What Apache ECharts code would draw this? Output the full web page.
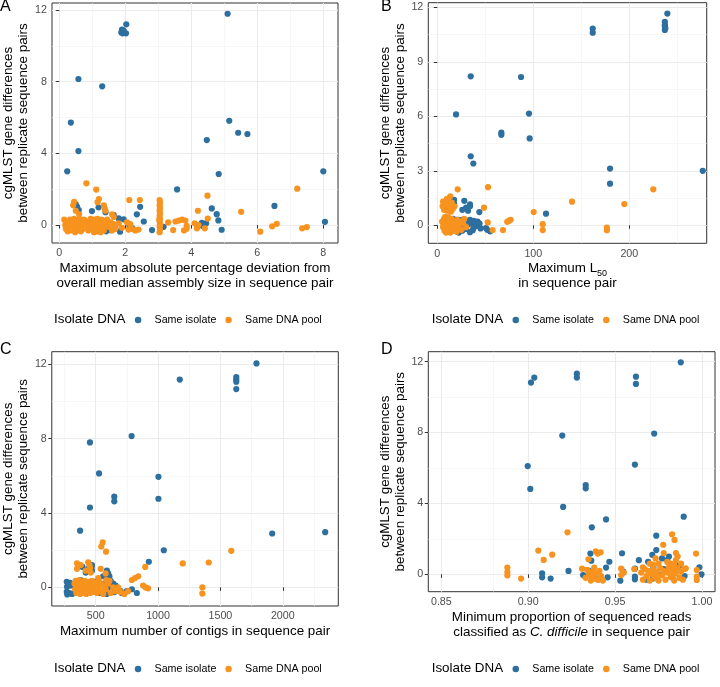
<!DOCTYPE html>
<html><head><meta charset="utf-8">
<script src="https://cdn.jsdelivr.net/npm/echarts@6/dist/echarts.min.js"></script>
<style>html,body{margin:0;padding:0;background:#fff}#c{width:720px;height:687px}</style>
</head><body><div id="c"></div>
<script>
// ---------------- DATA ----------------
const seriesNames = ['Same isolate', 'Same DNA pool'];

// Panel A: max abs % deviation from median assembly size vs cgMLST differences
const aSameIsolate = [[0.24,3.0],[0.35,5.72],[0.58,8.15],[0.58,4.13],[1.30,7.74],
 [1.88,10.75],[1.90,10.9],[1.92,10.7],[1.95,10.85],[2.02,10.7],[2.03,11.2],
 [5.10,11.79],[5.15,5.82],[5.42,5.15],[5.70,5.08],[4.47,4.74],[4.83,2.85],[3.57,1.99],
 [8.00,3.0],[8.05,0.18],[6.52,1.07],[4.62,0.93],[4.77,0.61],[4.82,0.26],[4.92,-0.26],
 [2.81,-0.28],[3.16,-0.1],[2.56,0.2],[2.35,0.6],[2.45,1.02],
 [4.27,0.0],[4.32,0.12],[4.38,0.05],[4.45,0.1],[4.35,-0.05],
 [0.5,1.15],[0.54,1.02],[0.59,0.84],[0.45,1.2],[0.99,0.78],[1.19,0.99],[1.4,0.72],
 [1.65,0.56],[1.8,0.37],[1.95,0.32],[0.49,0.09],[0.54,-0.28],[0.39,0.0],[0.8,0.0],[0.9,-0.18],
 [1.45,-0.18],[1.55,-0.28],[1.7,-0.18],[1.84,-0.37],[2.22,-0.18],[2.12,0.0],[1.15,0.05],
 [1.35,-0.1],[1.42,-0.35],[0.3,0.05],[0.65,-0.3],[1.25,-0.25],[1.05,-0.05]];
const aSameDnaPool = [[0.82,2.33],[1.12,1.98],[0.45,1.3],[0.42,1.1],[0.5,0.8],[0.6,0.6],
 [1.16,1.28],[1.2,1.45],[1.35,1.1],[1.38,0.9],[1.4,0.8],[1.6,0.6],[1.65,0.45],[2.12,1.4],[2.44,1.4],
 [0.15,0.3],[0.18,0.0],[0.2,-0.2],[0.22,0.15],[0.25,-0.35],[0.28,0.1],[0.3,-0.1],[0.33,0.3],
 [0.35,-0.3],[0.38,0.0],[0.4,0.2],[0.42,-0.15],[0.45,0.35],[0.48,-0.4],[0.5,0.05],[0.52,-0.25],
 [0.55,0.25],[0.6,-0.05],[0.62,0.35],[0.65,-0.35],[0.7,0.1],[0.72,-0.2],[0.75,0.3],[0.8,-0.1],
 [0.85,0.2],[0.88,-0.3],[0.9,0.05],[0.95,0.35],[1.0,-0.15],[1.02,0.1],[1.05,-0.4],[1.05,0.3],
 [1.08,0.0],[1.1,-0.25],[1.1,0.2],[1.12,-0.1],[1.15,0.35],[1.15,-0.35],[1.18,0.05],[1.2,-0.2],
 [1.2,0.25],[1.22,-0.05],[1.25,0.15],[1.25,-0.4],[1.28,0.3],[1.3,-0.15],[1.32,0.1],[1.35,-0.3],
 [1.38,0.2],[1.4,0.0],[1.45,0.3],[1.5,-0.1],[1.55,0.15],[1.6,-0.3],[1.65,0.05],[1.7,-0.2],
 [1.8,0.1],[1.9,-0.15],[2.05,0.15],[2.1,-0.25],[2.2,-0.2],[2.3,-0.3],[2.4,-0.25],[2.15,0.05],
 [3.04,1.4],[3.05,1.25],[3.04,1.1],[3.05,0.95],[3.04,0.8],[3.05,0.65],[3.04,0.5],[3.05,0.35],
 [3.04,0.2],[3.05,0.05],[3.04,-0.1],[3.05,-0.25],[3.04,-0.4],[3.06,0.0],[3.03,0.3],
 [3.3,0.15],[3.52,0.2],[3.62,0.25],[3.72,0.3],[3.82,0.25],[3.45,-0.28],[3.78,-0.3],[3.86,-0.2],
 [3.86,-0.05],[4.2,0.8],[4.17,-0.18],[4.22,0.0],[4.1,0.1],[4.41,-0.18],[4.5,0.36],[4.49,1.64],
 [5.51,0.74],[6.09,-0.37],[6.45,-0.07],[6.59,0.07],[7.21,2.03],[7.36,-0.18],[7.5,-0.11]];

// Panel B: maximum L50 vs cgMLST differences
const bSameIsolate = [[239.6,11.65],[237,11.2],[237,11.05],[237,10.95],[237.5,10.85],[237,10.75],
 [161.9,10.83],[161.9,10.6],[34.8,8.2],[87.2,8.16],[19.5,6.1],[95.5,6.15],[66.7,5.1],[66.7,4.98],
 [96.2,4.78],[34.8,3.8],[37.5,3.4],[179.9,3.12],[179.9,2.29],[276.5,3.0],[113.2,0.64],[43.8,0.73],
 [17.5,1.4],[17.5,1.2],[28.1,1.35],[34,1.15],[34,1.05],[26,0.85],[30,0.97],[32,0.8],[22.3,0.3],
 [50.7,-0.15],[54.9,-0.33],[22.3,-0.4],[36.9,-0.27],
 [16.4,0.35],[18,0.2],[20,0.3],[22,0.0],[24,0.15],[26,0.3],[28,-0.1],[30,0.2],[32,0.05],[34,0.3],
 [36,0.1],[38,0.25],[40,-0.05],[42,0.2],[44,0.1],[20.5,-0.26],[34,-0.38],[45,-0.17],[52,-0.25],
 [30,-0.2],[26,-0.3],[38,-0.1]];
const bSameDnaPool = [[21.2,1.98],[52.8,2.1],[225,1.98],[140.3,1.3],[194.8,1.17],[100.4,0.73],
 [48.6,0.97],[13.5,1.6],[109.8,0.06],[109.8,-0.26],[176.6,-0.13],[176.6,-0.27],[52.5,0.16],
 [57.6,-0.26],[68.4,-0.26],[72.8,0.19],[74.5,0.24],[76.3,0.3],
 [6,1.3],[8,1.0],[9,1.2],[10,0.8],[11,1.35],[12,0.95],[13,1.1],[14,0.75],[7,0.85],[15,1.25],
 [18,1.05],[5.5,1.05],[10,1.45],[16,0.9],
 [5,0.2],[6,-0.1],[7,0.35],[7.5,-0.3],[8,0.1],[8.5,-0.2],[9,0.3],[9.5,0.0],[10,-0.35],[10.5,0.2],
 [11,-0.1],[11.5,0.4],[12,-0.25],[12.5,0.05],[13,0.3],[13.5,-0.4],[14,0.15],[14.5,-0.15],[15,0.35],
 [15.5,-0.3],[16,0.0],[17,0.25],[18,-0.2],[19,0.1],[20,-0.35],[21,0.3],[22,-0.05],[24,0.2],
 [25,-0.25],[27,0.1],[28,0.35],[30,-0.1],[8,0.45],[11,0.45],[6.5,0.0],[9,-0.4]];

// Panel C: maximum number of contigs vs cgMLST differences
const cSameIsolate = [[1789,12.05],[1174,11.18],[1627,11.32],[1627,11.18],[1627,11.06],[1627,10.67],
 [788,8.14],[454,7.8],[527,6.13],[649,4.88],[649,4.63],[1003,5.95],[1003,4.77],[454,4.3],[375,3.05],
 [1915,2.9],[2340,2.97],[1046,2.0],[926,1.38],
 [268,0.3],[270,0.03],[268,-0.24],[272,-0.38],[285,0.2],[290,-0.3],[300,0.1],[310,-0.35],[295,0.25],
 [394,1.1],[468,1.1],[470,0.9],[590,0.9],[600,0.75],[610,0.6],[580,0.7],[560,0.6],[572,0.2],
 [641,0.2],[708,-0.3],[750,-0.2],[790,-0.1],[588,-0.35],[530,-0.3],[650,-0.25],[440,1.0],[470,1.2],
 [490,0.3],[520,0.1],[480,-0.1],[410,0.0],[380,0.4],[360,-0.2],[420,0.8],[600,0.0],[660,0.1],
 [700,-0.2],[830,-0.3],[620,0.35]];
const cSameDnaPool = [[556,2.42],[545,2.2],[583,1.92],[1587,1.97],[1198,1.29],[1406,1.34],[1355,0.0],
 [1355,-0.33],[897,1.1],[790,0.4],[815,0.5],[841,0.6],[880,0.1],[900,0.0],[920,-0.05],[760,-0.2],
 [730,-0.35],[700,-0.25],[680,0.0],
 [350,1.3],[380,1.2],[440,1.35],[450,1.2],[455,1.05],[350,1.0],[420,0.9],[460,0.8],[540,1.0],
 [580,0.75],[585,0.4],[610,0.35],[520,0.5],
 [330,0.2],[335,-0.1],[340,0.35],[345,-0.3],[350,0.05],[355,0.25],[360,-0.2],[365,0.1],[370,0.4],
 [375,-0.35],[380,0.0],[385,0.3],[390,-0.15],[395,0.2],[400,-0.3],[405,0.05],[410,0.35],[415,-0.1],
 [420,0.15],[425,-0.35],[430,0.25],[435,0.0],[440,-0.2],[445,0.3],[450,0.1],[455,-0.3],[460,0.2],
 [465,-0.05],[470,0.35],[475,-0.25],[480,0.1],[490,-0.15],[500,0.25],[510,-0.3],[520,0.0],[530,0.3],
 [540,-0.2],[550,0.15],[560,-0.35],[570,0.05],[580,-0.1],[600,0.2],[620,-0.3],[640,0.0],[660,-0.2]];

// Panel D: minimum proportion of reads classified as C. difficile vs cgMLST differences
const dSameIsolate = [[0.9016,10.82],[0.9035,11.1],[0.928,11.32],[0.928,11.1],[0.962,11.15],[0.962,10.74],
 [0.9878,11.96],[0.9196,7.83],[0.9725,7.94],[0.8997,6.11],[0.9012,4.82],[0.9614,6.19],[0.9331,5.04],
 [0.9331,4.85],[0.9201,3.8],[0.9366,2.65],[0.9448,3.1],[0.9895,3.25],[0.9737,2.18],[0.9737,1.37],
 [0.954,1.19],[0.9358,1.17],[0.9363,0.77],[0.9467,0.71],[0.9448,0.38],[0.9232,0.19],[0.908,0.06],
 [0.908,-0.17],[0.9129,-0.24],[0.9637,0.8],[0.9614,0.32],[0.9614,-0.13],[0.9614,-0.28],[0.953,-0.36],
 [0.9457,-0.17],[0.9408,-0.28],[0.9316,-0.04],[0.9547,0.15],[0.969,0.71],[0.9714,1.1],[0.9985,0.4],
 [0.9997,0.0],[0.9848,0.25],[0.98,0.8],[0.9718,-0.23],[0.935,0.2],[0.938,-0.1],[0.975,0.0],[0.978,0.3],
 [0.983,-0.2],[0.987,0.5],[0.99,-0.1],[0.968,-0.3],[0.972,0.4],[0.977,0.9],[0.981,1.0]];
const dSameDnaPool = [[0.9226,2.37],[0.9058,1.34],[0.9089,0.81],[0.9138,1.11],[0.888,0.38],[0.888,0.13],
 [0.888,-0.06],[0.8959,-0.24],[0.931,0.32],[0.9389,1.3],[0.94,1.17],[0.9417,1.24],[0.9347,0.85],
 [0.938,0.38],[0.9375,0.06],[0.9535,0.32],[0.9535,-0.04],[0.9828,2.26],[0.9842,1.94],[0.9777,1.67],
 [0.9733,0.9],[0.9966,1.17],[0.997,0.24],[0.997,-0.13],[0.997,-0.32],[0.9907,0.34],
 [0.933,-0.2],[0.935,0.0],[0.936,-0.35],[0.937,0.15],[0.938,-0.25],[0.939,0.05],[0.94,-0.3],
 [0.941,0.2],[0.942,-0.1],[0.943,-0.35],[0.934,0.25],[0.936,-0.05],
 [0.965,0.1],[0.966,-0.3],[0.967,0.3],[0.968,-0.1],[0.969,0.2],[0.97,-0.35],[0.971,0.0],[0.972,0.3],
 [0.973,-0.2],[0.974,0.15],[0.975,-0.35],[0.976,0.35],[0.977,-0.05],[0.978,0.2],[0.979,-0.3],[0.98,0.1],
 [0.981,0.4],[0.982,-0.15],[0.983,0.25],[0.984,-0.35],[0.985,0.05],[0.986,0.35],[0.987,-0.2],
 [0.988,0.15],[0.989,-0.3],[0.99,0.3],[0.975,0.6],[0.98,0.7],[0.985,0.8],[0.986,1.0],[0.985,1.2],
 [0.984,0.5],[0.978,1.2],[0.972,0.55],[0.982,0.6],[0.988,0.6],[0.966,0.4],[0.97,0.6],[0.974,-0.1],
 [0.983,-0.05],[0.961,0.3],[0.955,0.1]];

// Tick values
const aXTicks = [0, 2, 4, 6, 8],            aXMinor = [1, 3, 5, 7];
const aYTicks = [0, 4, 8, 12],              aYMinor = [2, 6, 10];
const bXTicks = [0, 100, 200],              bXMinor = [50, 150, 250];
const bYTicks = [0, 3, 6, 9, 12],           bYMinor = [1.5, 4.5, 7.5, 10.5];
const cXTicks = [500, 1000, 1500, 2000],    cXMinor = [250, 750, 1250, 1750, 2250];
const cYTicks = [0, 4, 8, 12],              cYMinor = [2, 6, 10];
const dXTicks = [0.85, 0.90, 0.95, 1.00],   dXMinor = [0.875, 0.925, 0.975];
const dYTicks = [0, 4, 8, 12],              dYMinor = [2, 6, 10];

const yTitle = 'cgMLST gene differences\nbetween replicate sequence pairs';
const xTitles = [
  'Maximum absolute percentage deviation from\noverall median assembly size in sequence pair',
  'Maximum L{sub|50}\nin sequence pair',
  'Maximum number of contigs in sequence pair',
  'Minimum proportion of sequenced reads\nclassified as {it|C. difficile} in sequence pair'
];
const panelLetters = ['A', 'B', 'C', 'D'];
const legendTitle = 'Isolate DNA';

// ---------------- LAYOUT ----------------
const FONT = "'Liberation Sans', Arial, Helvetica, sans-serif";
const COLORS = ['#2D6F9F', '#F7931E'];
const panels = [
  { grid: {left: 52, top: 3, width: 286, height: 240}, xr: [-0.221, 8.445], yr: [-1.0, 12.39],
    data: [aSameIsolate, aSameDnaPool], xt: aXTicks, xm: aXMinor, yt: aYTicks, ym: aYMinor,
    fmt: v => String(v), xGap: 18, yGap: 19, letter: [0, -1], legend: {title: 54, icon: 134.8, y: 321} },
  { grid: {left: 428.3, top: 2.7, width: 278.4, height: 240.6}, xr: [-9.4, 280.6], yr: [-0.99, 12.25],
    data: [bSameIsolate, bSameDnaPool], xt: bXTicks, xm: bXMinor, yt: bYTicks, ym: bYMinor,
    fmt: v => String(v), xGap: 18, yGap: 17, letter: [381, -1], legend: {title: 431.7, icon: 512.5, y: 321} },
  { grid: {left: 51, top: 351.7, width: 287.3, height: 254.3}, xr: [148, 2445], yr: [-1.0, 12.68],
    data: [cSameIsolate, cSameDnaPool], xt: cXTicks, xm: cXMinor, yt: cYTicks, ym: cYMinor,
    fmt: v => String(v), xGap: 18, yGap: 18, letter: [0, 342], legend: {title: 54, icon: 134.8, y: 670} },
  { grid: {left: 428.3, top: 351.7, width: 286.7, height: 240}, xr: [0.8425, 1.0075], yr: [-0.98, 12.56],
    data: [dSameIsolate, dSameDnaPool], xt: dXTicks, xm: dXMinor, yt: dYTicks, ym: dYMinor,
    fmt: v => v.toFixed(2), xGap: 18, yGap: 17, letter: [381, 342], legend: {title: 431.7, icon: 512.5, y: 670} }
];

const grids = [], xAxes = [], yAxes = [], series = [], legends = [], graphics = [];
panels.forEach((p, i) => {
  grids.push(Object.assign({show: true, borderColor: '#333333', borderWidth: 1, backgroundColor: '#fff', containLabel: false}, p.grid));
  const tickStyle = {show: true, length: 3.5, lineStyle: {color: '#333333', width: 1}};
  const labelStyle = {color: '#4D4D4D', fontSize: 10.7, fontFamily: FONT};
  xAxes.push({
    gridIndex: i, type: 'value', min: p.xr[0], max: p.xr[1],
    axisLine: {show: false}, splitLine: {show: false},
    axisTick: Object.assign({customValues: p.xt}, tickStyle),
    axisLabel: Object.assign({customValues: p.xt, margin: 5, formatter: p.fmt}, labelStyle),
    name: xTitles[i], nameLocation: 'middle', nameGap: p.xGap,
    nameTextStyle: {color: '#000', fontSize: 13.4, fontFamily: FONT, lineHeight: 15,
      rich: {sub: {fontSize: 9, fontFamily: FONT, color: '#000', padding: [9, 0, 0, 0]},
             it: {fontSize: 13.4, fontFamily: FONT, color: '#000', fontStyle: 'italic'}}}
  });
  yAxes.push({
    gridIndex: i, type: 'value', min: p.yr[0], max: p.yr[1],
    axisLine: {show: false}, splitLine: {show: false},
    axisTick: Object.assign({customValues: p.yt}, tickStyle),
    axisLabel: Object.assign({customValues: p.yt, margin: 5}, labelStyle),
    name: yTitle, nameLocation: 'middle', nameGap: p.yGap, nameRotate: 90,
    nameTextStyle: {color: '#000', fontSize: 13.4, fontFamily: FONT, lineHeight: 15}
  });
  const mkLines = (xs, ys, color, width) => ({
    silent: true, symbol: ['none', 'none'], label: {show: false}, animation: false, z: 0,
    emphasis: {disabled: true}, lineStyle: {color: color, width: width, type: 'solid'},
    data: xs.map(v => ({xAxis: v})).concat(ys.map(v => ({yAxis: v})))
  });
  series.push({type: 'scatter', name: '_minor' + i, xAxisIndex: i, yAxisIndex: i, data: [], z: 0, silent: true,
    markLine: mkLines(p.xm, p.ym, '#F2F2F2', 0.6)});
  series.push({type: 'scatter', name: '_major' + i, xAxisIndex: i, yAxisIndex: i, data: [], z: 0, silent: true,
    markLine: mkLines(p.xt, p.yt, '#EBEBEB', 1.1)});
  p.data.forEach((d, k) => {
    series.push({type: 'scatter', name: seriesNames[k], xAxisIndex: i, yAxisIndex: i, data: d,
      symbolSize: 6.2, itemStyle: {color: COLORS[k], opacity: 1}, z: 3 + k, silent: true});
  });
  legends.push({left: p.legend.icon, top: p.legend.y - 6.5, padding: 0, itemWidth: 17, itemHeight: 6.5,
    itemGap: 9, icon: 'circle', data: seriesNames, selectedMode: false,
    textStyle: {color: '#000', fontSize: 10.7, fontFamily: FONT, padding: [0, 0, 0, 3]}});
  graphics.push({type: 'text', left: p.legend.title, top: p.legend.y - 8,
    style: {text: legendTitle, fontSize: 13.4, fontFamily: FONT, fill: '#000'}});
  graphics.push({type: 'text', left: p.letter[0], top: p.letter[1],
    style: {text: panelLetters[i], fontSize: 16, fontFamily: FONT, fill: '#000'}});
});

const chart = echarts.init(document.getElementById('c'), null, {renderer: 'canvas'});
chart.setOption({
  animation: false, backgroundColor: '#fff',
  grid: grids, xAxis: xAxes, yAxis: yAxes, series: series, legend: legends, graphic: graphics
});
</script></body></html>
